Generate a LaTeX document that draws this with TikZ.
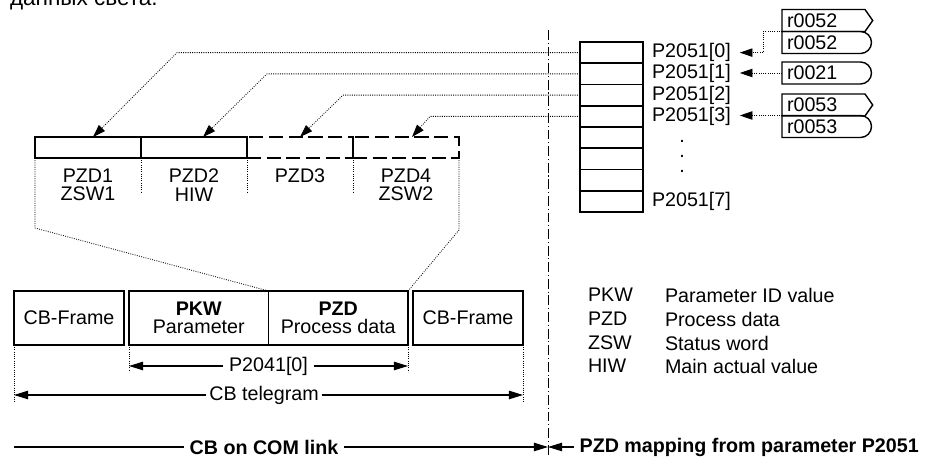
\documentclass[tikz,border=0pt]{standalone}
\usepackage{fontspec}
\setmainfont{Liberation Sans}
\usetikzlibrary{arrows.meta, calc, positioning, shapes.misc, shapes.symbols}
\newcommand{\pxl}{0.025cm}

\begin{document}
\begin{tikzpicture}[x=\pxl, y=-\pxl,
        every node/.style={font=\fontsize{14}{13}\selectfont, inner sep=0pt, outer sep=0pt},
        cellbox/.style={draw, line width=1.4pt, minimum height=21.25*\pxl, minimum width=63*\pxl},
        pzdbox/.style={draw, line width=1.4pt, minimum height=21*\pxl, minimum width=106*\pxl},
        pzdopen/.style={pzdbox, dash pattern=on 10pt off 4pt},
        framebox/.style={draw, line width=1.6pt, minimum height=54*\pxl, minimum width=110*\pxl},
        halfbox/.style={minimum height=54*\pxl, minimum width=139.5*\pxl, align=center},
        sigpoint/.style={signal, signal to=east, signal pointer angle=110, draw, line width=1pt,
            minimum height=22*\pxl, text width=73*\pxl, inner xsep=5*\pxl, align=left},
        siground/.style={rounded rectangle, rounded rectangle left arc=none, draw, line width=1pt,
            minimum height=22*\pxl, text width=77*\pxl, inner xsep=5*\pxl, align=left},
        guide/.style={densely dotted, line width=0.6pt},
        maparrow/.style={densely dotted, line width=0.6pt, -{Triangle[length=9pt, width=6pt]}},
        dimarrow/.style={line width=0.8pt, -{Triangle[length=10pt, width=6pt]}},
        gaplabel/.style={inner xsep=4pt}]
    \useasboundingbox (0,0) rectangle (928,457);

    % --- cut-off caption line ---
    \node[anchor=base west, font=\fontsize{16}{16}\selectfont] (caption) at (10,6) {данных света.};

    % --- separator ---
    \coordinate (sepTop) at (548,30);
    \coordinate (sepBot) at (548,457);
    \coordinate (sepMid) at (548,447);
    \draw[line width=0.7pt, dash pattern=on 7pt off 2pt on 0.8pt off 2pt] (sepTop) -- (sepBot);

    % --- PZD words ---
    \node[pzdbox] (pzd1) at (88,147.5) {};
    \node[pzdbox, right=0pt of pzd1] (pzd2) {};
    \node[pzdopen, right=0pt of pzd2] (pzd3) {};
    \node[pzdopen, right=0pt of pzd3] (pzd4) {};
    \node[anchor=north, align=center] (pzdlab1) at (88,169) {PZD1\\ZSW1};
    \node[anchor=north, align=center] (pzdlab2) at (194,169) {PZD2\\HIW};
    \node[anchor=north, align=center] (pzdlab3) at (300,169) {PZD3};
    \node[anchor=north, align=center] (pzdlab4) at (406,169) {PZD4\\ZSW2};

    % --- telegram ---
    \node[framebox] (frameL) at (69,318) {CB-Frame};
    \node[halfbox] (pkw) at (198.75,318) {\textbf{PKW}\\Parameter};
    \node[halfbox, right=0pt of pkw] (pzd) {\textbf{PZD}\\Process data};
    \node[framebox] (frameR) at (468,318) {CB-Frame};
    \draw[line width=1.6pt] (pkw.north west) rectangle (pzd.south east);
    \draw[line width=0.7pt] (pkw.north east) -- (pkw.south east);

    % --- guides ---
    \draw[guide] (pzd1.south west) -- ++(0,70) -- (pkw.north east);
    \draw[guide] (pzd4.south east) -- ++(0,72) -- (pzd.north east);
    \foreach \n in {pzd1,pzd2,pzd3}
        \draw[guide] (\n.south east) -- ++(0,35);
    \draw[guide] (pkw.south west) -- ++(0,27);
    \draw[guide] (pzd.south east) -- ++(0,27);
    \draw[guide] (frameL.south west) -- ++(0,57);
    \draw[guide] (frameR.south east) -- ++(0,58);

    % --- dimensions ---
    \path (pkw.south west) ++(0,21) coordinate (p41l);
    \path (pzd.south east) ++(0,21) coordinate (p41r);
    \node[gaplabel] (p41) at ($(p41l)!0.5!(p41r)$) {P2041[0]};
    \draw[dimarrow] (p41) -- (p41l);
    \draw[dimarrow] (p41) -- (p41r);
    \path (frameL.south west) ++(0,50) coordinate (tgl);
    \path (frameR.south east) ++(0,50) coordinate (tgr);
    \node[inner xsep=2pt] (tg) at (264,395) {CB telegram};
    \draw[dimarrow] (tg) -- (tgl);
    \draw[dimarrow] (tg) -- (tgr);

    % --- bottom line ---
    \coordinate (comL) at (14,447);
    \node[gaplabel] (comlink) at (264,447) {\textbf{CB on COM link}};
    \node[gaplabel, anchor=west] (pzdmap) at (574,447) {\textbf{PZD mapping from parameter P2051}};
    \draw[line width=0.8pt] (comlink) -- (comL);
    \draw[dimarrow] (comlink) -- (sepMid);
    \draw[dimarrow] (pzdmap) -- (sepMid);

    % --- P2051 array ---
    \foreach \i in {0,...,7}
        \node[cellbox] (cell\i) at (611.5,{52.625+21.25*\i}) {};
    \foreach \i in {0,1,2,3,7}
        \node[anchor=west] (lab\i) at ([xshift=9*\pxl]cell\i.east) {P2051[\i]};
    \node[align=center, font=\fontsize{14}{10.7}\selectfont] (dots) at (682,156) {.\\.\\.};

    % --- sources ---
    \node[sigpoint, anchor=west] (r52a) at (782,20.5) {r0052};
    \node[siground, anchor=west] (r52b) at (782,42.5) {r0052};
    \node[siground, anchor=west] (r21) at (782,73) {r0021};
    \node[sigpoint, anchor=west] (r53a) at (782,105) {r0053};
    \node[siground, anchor=west] (r53b) at (782,126.5) {r0053};
    \draw[maparrow, shorten >=6.4pt] (r52b.north -| r52b.west) -- ++(-19,0) |- (lab0);
    \draw[maparrow, shorten >=6.4pt] (r21.west) -- (lab1.east |- r21.west);
    \draw[maparrow, shorten >=6.4pt] (r53b.north -| r53b.west) -- (lab3.east |- r53b.north);

    % --- mapping into telegram ---
    \draw[maparrow] (cell0.west) -- ++(-403,0) -- ([xshift=5*\pxl]pzd1.north);
    \draw[maparrow] (cell1.west) -- ++(-313,0) -- ([xshift=9*\pxl]pzd2.north);
    \draw[maparrow] (cell2.west) -- ++(-237,0) -- (pzd3.north);
    \draw[maparrow] (cell3.west) -- ++(-150,0) -- ([xshift=6*\pxl]pzd4.north);

    % --- legend ---
    \foreach \k/\v/\y in {PKW/Parameter ID value/295, PZD/Process data/319,
                          ZSW/Status word/343, HIW/Main actual value/366} {
        \node[anchor=west] (key\k) at (588,\y) {\k};
        \node[anchor=west] (val\k) at (665,\y) {\v};
    }
\end{tikzpicture}
\end{document}
